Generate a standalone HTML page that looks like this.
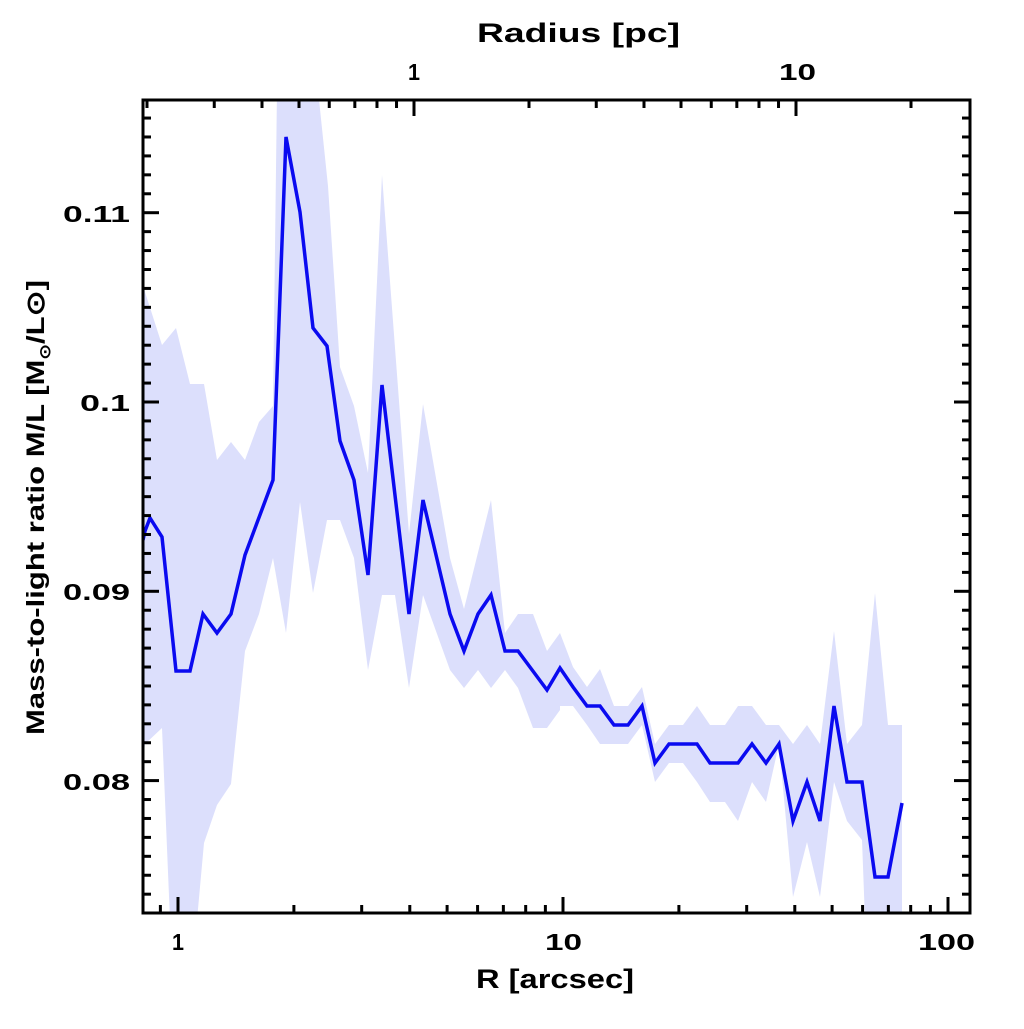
<!DOCTYPE html>
<html><head><meta charset="utf-8"><style>
html,body{margin:0;padding:0;background:#fff;}
text{font-family:"Liberation Sans",sans-serif;font-weight:bold;fill:#000;}
</style></head><body>
<svg width="1024" height="1024" viewBox="0 0 1024 1024" xmlns="http://www.w3.org/2000/svg">
<defs><clipPath id="c"><rect x="143" y="100" width="827" height="813"/></clipPath></defs>
<g clip-path="url(#c)">
<polygon fill="#dcdffc" points="
143,280 145,292 162,345 176,328 190,384 204,384 217,460 231,442 245,460 259,422 273,406 277,90 318,90 328,186 340,367 354,406 368,473 382,175 409,534 423,404 450,558 464,609 491,500 505,633 518,614 533,614 547,651 560,633 573,667 587,687 600,669 614,706 628,706 642,687 655,744 669,725 683,725 697,706 710,725 725,725 738,706 752,706 766,725 779,725 793,744 807,725 820,744 834,631 847,744 862,725 875,593 888,725 902,725
902,920 865,920 862,840 847,821 834,782 820,897 807,842 793,897 779,744 766,802 752,782 738,821 725,802 710,802 697,782 683,763 669,763 655,782 642,725 628,744 600,744 587,725 573,706 560,706 560,710 547,728 533,728 518,688 505,670 491,688 478,670 464,688 450,670 423,595 409,688 395,595 382,595 368,670 354,558 340,520 327,520 313,593 300,502 286,633 273,558 259,614 245,651 231,784 217,805 204,843 197,920 170,920 162,728 145,744 143,760"/>
<polyline fill="none" stroke="#0a0af0" stroke-width="3.5" stroke-linejoin="miter" points="
143,540 145,531 150,518 162,537 176,671 190,671 203,614 217,633 231,614 245,555 273,480 286,137 300,212 313,328 327,346 340,441 354,480 368,575 382,385 409,614 423,500 450,614 464,651 478,614 491,595 505,651 518,651 547,690 560,668 573,687 587,706 600,706 614,725 628,725 642,706 655,763 669,744 697,744 710,763 738,763 752,744 766,763 779,744 793,821 807,782 820,821 834,706 847,782 862,782 875,877 888,877 902,803"/>
</g>
<rect x="143" y="100" width="827" height="813" fill="none" stroke="#000" stroke-width="3"/>
<g stroke="#000" stroke-width="3" id="ticks"></g>
<text x="172" y="950" font-size="23" textLength="12" lengthAdjust="spacingAndGlyphs">1</text>
<text x="545" y="950" font-size="23" textLength="37" lengthAdjust="spacingAndGlyphs">10</text>
<text x="918" y="950" font-size="23" textLength="57" lengthAdjust="spacingAndGlyphs">100</text>
<text x="408" y="80" font-size="23" textLength="12" lengthAdjust="spacingAndGlyphs">1</text>
<text x="779" y="80" font-size="23" textLength="37" lengthAdjust="spacingAndGlyphs">10</text>
<text x="63" y="222" font-size="23" textLength="67" lengthAdjust="spacingAndGlyphs">0.11</text>
<text x="80" y="411" font-size="23" textLength="50" lengthAdjust="spacingAndGlyphs">0.1</text>
<text x="63" y="600" font-size="23" textLength="67" lengthAdjust="spacingAndGlyphs">0.09</text>
<text x="63" y="790" font-size="23" textLength="67" lengthAdjust="spacingAndGlyphs">0.08</text>
<text x="476" y="988" font-size="27" textLength="158" lengthAdjust="spacingAndGlyphs">R [arcsec]</text>
<text x="477" y="42" font-size="27" textLength="203" lengthAdjust="spacingAndGlyphs">Radius [pc]</text>
<text transform="translate(44,735) rotate(-90)" font-size="25" textLength="455" lengthAdjust="spacingAndGlyphs">Mass-to-light ratio M/L [M<tspan font-size="15" dy="6">⊙</tspan><tspan dy="-6">/L⊙]</tspan></text>
</svg>
<script>
var g=document.getElementById('ticks'),s='';
function L(a,b,c,d){s+='<line x1="'+a+'" y1="'+b+'" x2="'+c+'" y2="'+d+'"/>';}
for(var d=-1;d<=2;d++)for(var k=1;k<10;k++){var x=178+385*(d+Math.log10(k));if(x<145||x>968)continue;var l=k==1?16:8;L(x,913,x,913-l);}
for(var d=-1;d<=1;d++)for(var k=1;k<10;k++){var x=414+382*(d+Math.log10(k));if(x<145||x>968)continue;var l=k==1?16:8;L(x,100,x,100+l);}
for(var i=73;i<=116;i++){var v=i/1000;var y=402-(v-0.1)*18930;if(y<102||y>911)continue;var l=(i%10==0)?16:8;L(143,y,143+l,y);L(970,y,970-l,y);}
g.innerHTML=s;
</script>
</body></html>
